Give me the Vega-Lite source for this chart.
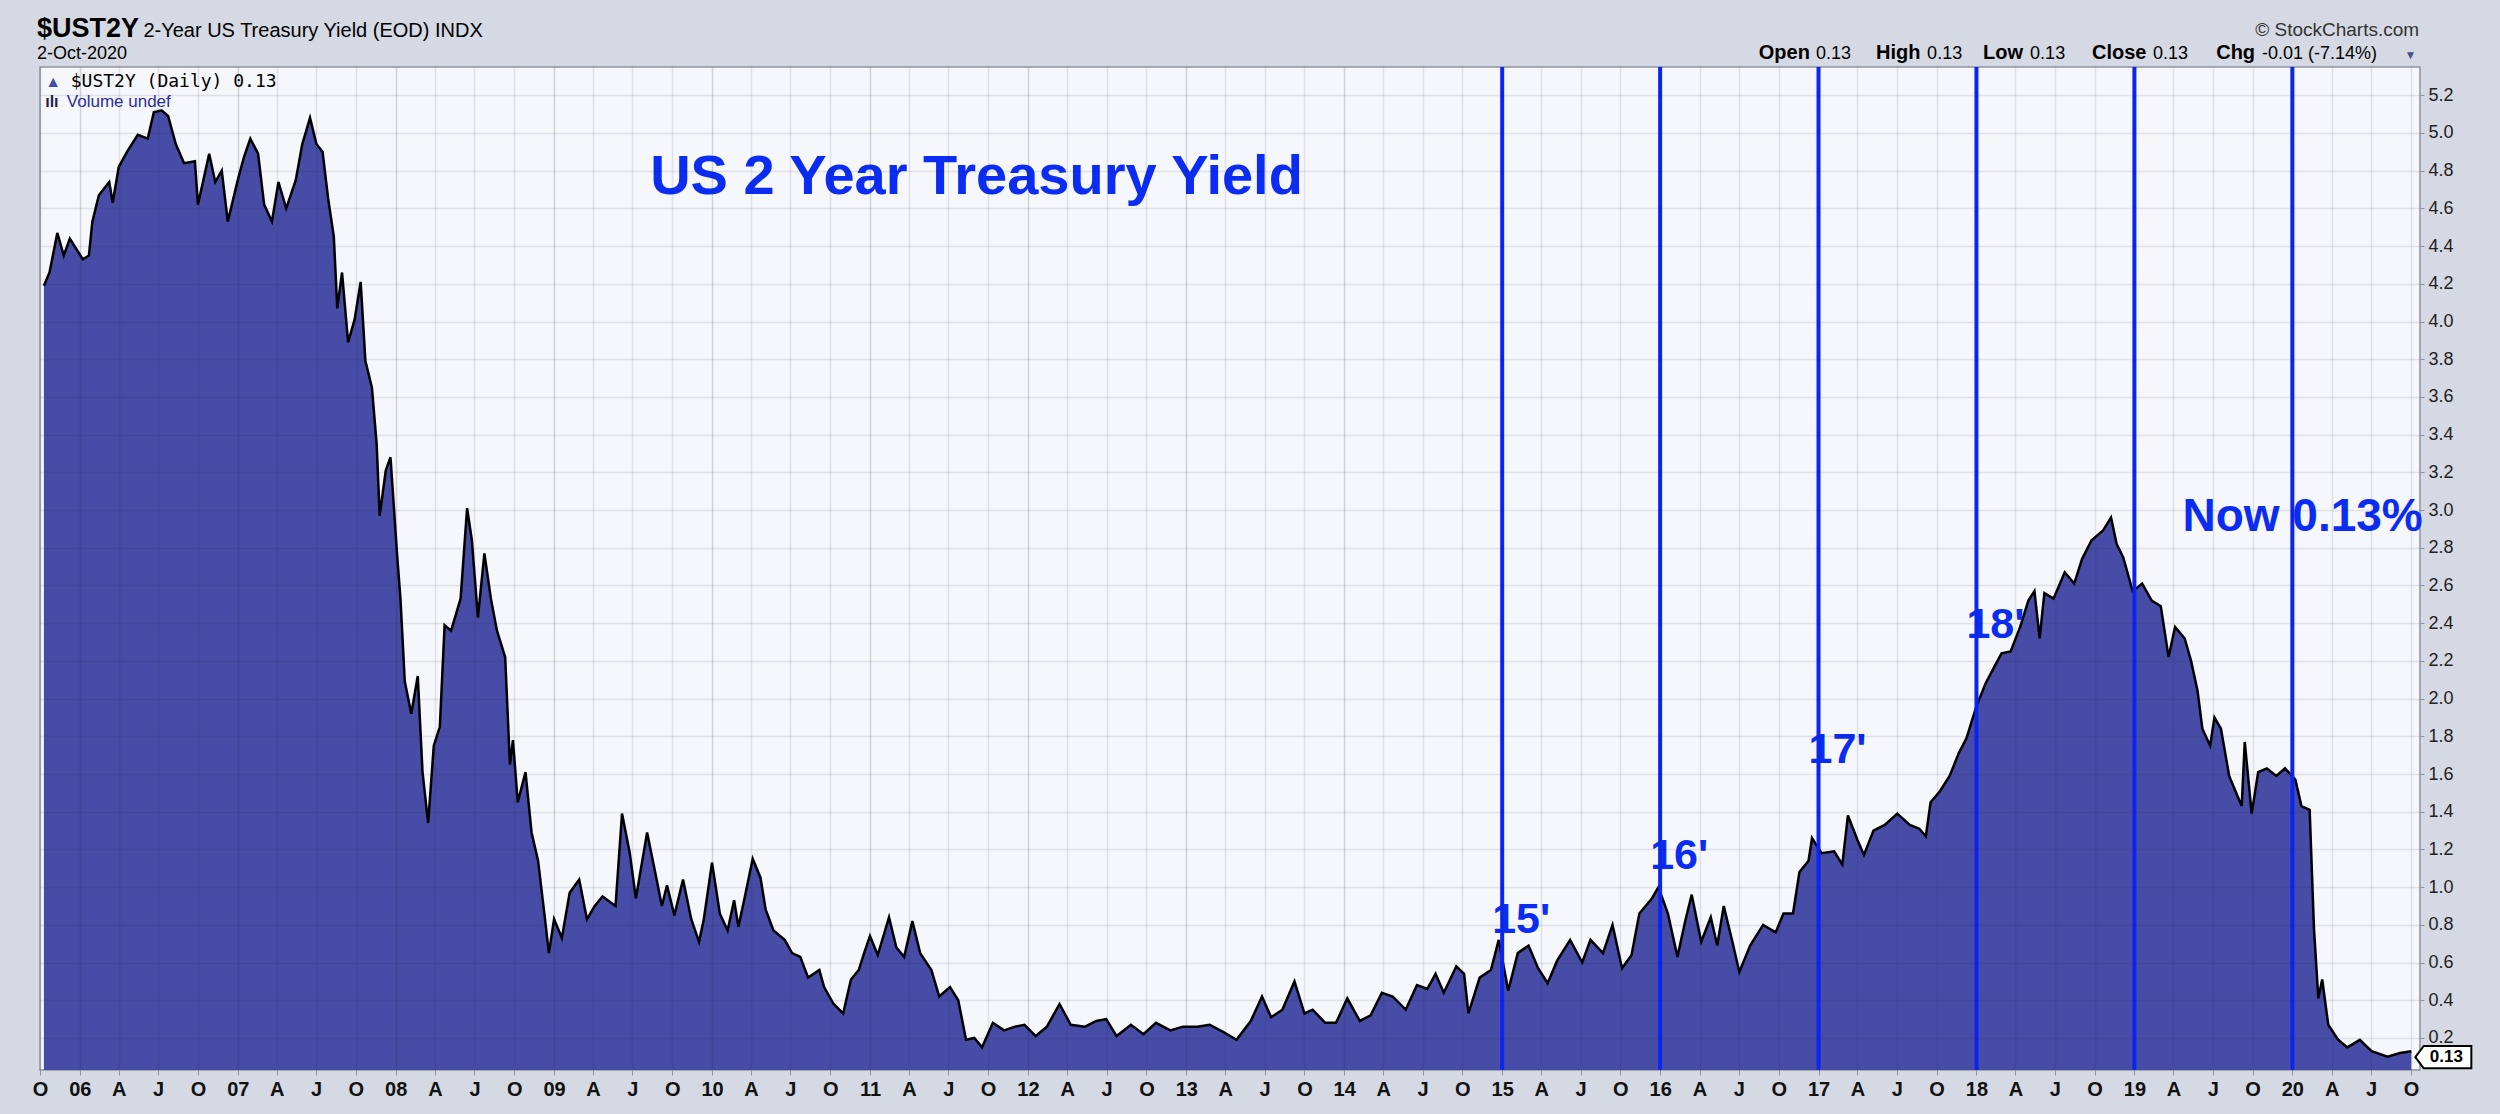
{
  "$schema": "https://vega.github.io/schema/vega-lite/v6.json",
  "width": 2380,
  "height": 1003,
  "autosize": {"type": "none"},
  "padding": {"left": 40, "top": 67, "right": 80, "bottom": 44},
  "background": "#d5d9e3",
  "config": {
    "view": {"fill": "#f6f7fb", "stroke": "#8d929f", "strokeWidth": 1.5},
    "font": "Liberation Sans"
  },
  "datasets": {
    "yield": [
      {"date": "2005-10-10", "yield": 4.19}, {"date": "2005-10-23", "yield": 4.26}, {"date": "2005-11-10", "yield": 4.47},
      {"date": "2005-11-25", "yield": 4.35}, {"date": "2005-12-09", "yield": 4.44}, {"date": "2006-01-08", "yield": 4.33},
      {"date": "2006-01-22", "yield": 4.35}, {"date": "2006-01-30", "yield": 4.53}, {"date": "2006-02-14", "yield": 4.67},
      {"date": "2006-03-10", "yield": 4.74}, {"date": "2006-03-18", "yield": 4.63}, {"date": "2006-04-01", "yield": 4.82},
      {"date": "2006-04-20", "yield": 4.90}, {"date": "2006-05-15", "yield": 4.99}, {"date": "2006-06-07", "yield": 4.97},
      {"date": "2006-06-21", "yield": 5.11}, {"date": "2006-07-09", "yield": 5.12}, {"date": "2006-07-24", "yield": 5.09},
      {"date": "2006-08-11", "yield": 4.94}, {"date": "2006-08-30", "yield": 4.84}, {"date": "2006-09-24", "yield": 4.85},
      {"date": "2006-10-01", "yield": 4.62}, {"date": "2006-10-27", "yield": 4.89}, {"date": "2006-11-10", "yield": 4.74},
      {"date": "2006-11-25", "yield": 4.80}, {"date": "2006-12-09", "yield": 4.53}, {"date": "2007-01-01", "yield": 4.75},
      {"date": "2007-01-15", "yield": 4.87}, {"date": "2007-01-30", "yield": 4.97}, {"date": "2007-02-17", "yield": 4.89},
      {"date": "2007-03-03", "yield": 4.62}, {"date": "2007-03-21", "yield": 4.53}, {"date": "2007-04-05", "yield": 4.74},
      {"date": "2007-04-23", "yield": 4.60}, {"date": "2007-05-15", "yield": 4.75}, {"date": "2007-05-30", "yield": 4.94},
      {"date": "2007-06-17", "yield": 5.08}, {"date": "2007-07-02", "yield": 4.94}, {"date": "2007-07-16", "yield": 4.90},
      {"date": "2007-07-29", "yield": 4.65}, {"date": "2007-08-11", "yield": 4.45}, {"date": "2007-08-19", "yield": 4.07},
      {"date": "2007-08-30", "yield": 4.26}, {"date": "2007-09-13", "yield": 3.89}, {"date": "2007-09-28", "yield": 4.01},
      {"date": "2007-10-12", "yield": 4.21}, {"date": "2007-10-23", "yield": 3.79}, {"date": "2007-11-07", "yield": 3.65},
      {"date": "2007-11-18", "yield": 3.35}, {"date": "2007-11-25", "yield": 2.97}, {"date": "2007-12-09", "yield": 3.21},
      {"date": "2007-12-20", "yield": 3.28}, {"date": "2008-01-04", "yield": 2.77}, {"date": "2008-01-12", "yield": 2.53},
      {"date": "2008-01-22", "yield": 2.09}, {"date": "2008-02-06", "yield": 1.92}, {"date": "2008-02-21", "yield": 2.12},
      {"date": "2008-03-03", "yield": 1.61}, {"date": "2008-03-16", "yield": 1.34}, {"date": "2008-03-29", "yield": 1.75},
      {"date": "2008-04-12", "yield": 1.85}, {"date": "2008-04-23", "yield": 2.39}, {"date": "2008-05-08", "yield": 2.36},
      {"date": "2008-05-30", "yield": 2.53}, {"date": "2008-06-14", "yield": 3.01}, {"date": "2008-06-25", "yield": 2.84},
      {"date": "2008-07-09", "yield": 2.43}, {"date": "2008-07-24", "yield": 2.77}, {"date": "2008-08-08", "yield": 2.53},
      {"date": "2008-08-22", "yield": 2.36}, {"date": "2008-09-10", "yield": 2.22}, {"date": "2008-09-21", "yield": 1.65},
      {"date": "2008-09-28", "yield": 1.78}, {"date": "2008-10-09", "yield": 1.45}, {"date": "2008-10-27", "yield": 1.61},
      {"date": "2008-11-10", "yield": 1.29}, {"date": "2008-11-25", "yield": 1.14}, {"date": "2008-12-09", "yield": 0.87},
      {"date": "2008-12-20", "yield": 0.65}, {"date": "2009-01-01", "yield": 0.83}, {"date": "2009-01-19", "yield": 0.73},
      {"date": "2009-02-06", "yield": 0.97}, {"date": "2009-02-28", "yield": 1.04}, {"date": "2009-03-18", "yield": 0.83},
      {"date": "2009-04-05", "yield": 0.90}, {"date": "2009-04-23", "yield": 0.95}, {"date": "2009-05-23", "yield": 0.90},
      {"date": "2009-06-07", "yield": 1.39}, {"date": "2009-06-25", "yield": 1.18}, {"date": "2009-07-09", "yield": 0.94},
      {"date": "2009-08-04", "yield": 1.29}, {"date": "2009-08-26", "yield": 1.04}, {"date": "2009-09-07", "yield": 0.90},
      {"date": "2009-09-19", "yield": 1.01}, {"date": "2009-10-06", "yield": 0.85}, {"date": "2009-10-26", "yield": 1.04},
      {"date": "2009-11-14", "yield": 0.83}, {"date": "2009-12-02", "yield": 0.71}, {"date": "2009-12-13", "yield": 0.83},
      {"date": "2010-01-01", "yield": 1.13}, {"date": "2010-01-19", "yield": 0.86}, {"date": "2010-02-06", "yield": 0.77},
      {"date": "2010-02-21", "yield": 0.93}, {"date": "2010-03-03", "yield": 0.79}, {"date": "2010-03-18", "yield": 0.95},
      {"date": "2010-04-05", "yield": 1.15}, {"date": "2010-04-23", "yield": 1.05}, {"date": "2010-05-05", "yield": 0.88},
      {"date": "2010-05-23", "yield": 0.77}, {"date": "2010-06-18", "yield": 0.72}, {"date": "2010-07-05", "yield": 0.65},
      {"date": "2010-07-24", "yield": 0.63}, {"date": "2010-08-11", "yield": 0.52}, {"date": "2010-09-06", "yield": 0.56},
      {"date": "2010-09-17", "yield": 0.47}, {"date": "2010-10-09", "yield": 0.38}, {"date": "2010-10-31", "yield": 0.33},
      {"date": "2010-11-18", "yield": 0.51}, {"date": "2010-12-06", "yield": 0.56}, {"date": "2010-12-20", "yield": 0.66},
      {"date": "2011-01-01", "yield": 0.74}, {"date": "2011-01-19", "yield": 0.64}, {"date": "2011-02-14", "yield": 0.84},
      {"date": "2011-03-03", "yield": 0.68}, {"date": "2011-03-21", "yield": 0.63}, {"date": "2011-04-09", "yield": 0.82},
      {"date": "2011-04-27", "yield": 0.65}, {"date": "2011-05-23", "yield": 0.56}, {"date": "2011-06-10", "yield": 0.42},
      {"date": "2011-07-05", "yield": 0.47}, {"date": "2011-07-24", "yield": 0.40}, {"date": "2011-08-11", "yield": 0.19},
      {"date": "2011-08-30", "yield": 0.20}, {"date": "2011-09-17", "yield": 0.15}, {"date": "2011-10-12", "yield": 0.28},
      {"date": "2011-11-07", "yield": 0.24}, {"date": "2011-12-02", "yield": 0.26}, {"date": "2011-12-24", "yield": 0.27},
      {"date": "2012-01-19", "yield": 0.21}, {"date": "2012-02-14", "yield": 0.26}, {"date": "2012-03-14", "yield": 0.38},
      {"date": "2012-04-09", "yield": 0.27}, {"date": "2012-05-12", "yield": 0.26}, {"date": "2012-06-07", "yield": 0.29},
      {"date": "2012-06-30", "yield": 0.30}, {"date": "2012-07-24", "yield": 0.21}, {"date": "2012-08-26", "yield": 0.27},
      {"date": "2012-09-24", "yield": 0.22}, {"date": "2012-10-23", "yield": 0.28}, {"date": "2012-11-25", "yield": 0.24},
      {"date": "2012-12-24", "yield": 0.26}, {"date": "2013-01-26", "yield": 0.26}, {"date": "2013-02-24", "yield": 0.27},
      {"date": "2013-03-29", "yield": 0.23}, {"date": "2013-04-27", "yield": 0.19}, {"date": "2013-05-30", "yield": 0.29},
      {"date": "2013-06-25", "yield": 0.42}, {"date": "2013-07-16", "yield": 0.31}, {"date": "2013-08-11", "yield": 0.35},
      {"date": "2013-09-08", "yield": 0.50}, {"date": "2013-10-01", "yield": 0.33}, {"date": "2013-10-20", "yield": 0.35},
      {"date": "2013-11-18", "yield": 0.28}, {"date": "2013-12-13", "yield": 0.28}, {"date": "2014-01-08", "yield": 0.41},
      {"date": "2014-02-06", "yield": 0.29}, {"date": "2014-03-03", "yield": 0.32}, {"date": "2014-03-29", "yield": 0.44},
      {"date": "2014-04-23", "yield": 0.42}, {"date": "2014-05-23", "yield": 0.35}, {"date": "2014-06-18", "yield": 0.48},
      {"date": "2014-07-12", "yield": 0.46}, {"date": "2014-07-31", "yield": 0.54}, {"date": "2014-08-19", "yield": 0.44},
      {"date": "2014-09-17", "yield": 0.58}, {"date": "2014-10-05", "yield": 0.54}, {"date": "2014-10-15", "yield": 0.33},
      {"date": "2014-11-10", "yield": 0.52}, {"date": "2014-12-06", "yield": 0.56}, {"date": "2014-12-24", "yield": 0.72},
      {"date": "2015-01-15", "yield": 0.45}, {"date": "2015-02-06", "yield": 0.65}, {"date": "2015-03-03", "yield": 0.69},
      {"date": "2015-03-25", "yield": 0.57}, {"date": "2015-04-16", "yield": 0.49}, {"date": "2015-05-08", "yield": 0.61},
      {"date": "2015-06-07", "yield": 0.72}, {"date": "2015-07-05", "yield": 0.60}, {"date": "2015-07-24", "yield": 0.72},
      {"date": "2015-08-22", "yield": 0.65}, {"date": "2015-09-13", "yield": 0.80}, {"date": "2015-10-05", "yield": 0.57},
      {"date": "2015-10-27", "yield": 0.64}, {"date": "2015-11-14", "yield": 0.86}, {"date": "2015-12-13", "yield": 0.94},
      {"date": "2015-12-28", "yield": 1.00}, {"date": "2016-01-19", "yield": 0.86}, {"date": "2016-02-10", "yield": 0.63},
      {"date": "2016-02-28", "yield": 0.82}, {"date": "2016-03-14", "yield": 0.96}, {"date": "2016-04-05", "yield": 0.71},
      {"date": "2016-04-27", "yield": 0.84}, {"date": "2016-05-12", "yield": 0.69}, {"date": "2016-05-27", "yield": 0.90},
      {"date": "2016-06-16", "yield": 0.71}, {"date": "2016-07-02", "yield": 0.55}, {"date": "2016-07-27", "yield": 0.69},
      {"date": "2016-08-26", "yield": 0.80}, {"date": "2016-09-24", "yield": 0.76}, {"date": "2016-10-12", "yield": 0.86},
      {"date": "2016-11-03", "yield": 0.86}, {"date": "2016-11-18", "yield": 1.08}, {"date": "2016-12-09", "yield": 1.14},
      {"date": "2016-12-17", "yield": 1.26}, {"date": "2017-01-08", "yield": 1.18}, {"date": "2017-02-06", "yield": 1.19},
      {"date": "2017-02-25", "yield": 1.12}, {"date": "2017-03-10", "yield": 1.38}, {"date": "2017-04-01", "yield": 1.25},
      {"date": "2017-04-16", "yield": 1.17}, {"date": "2017-05-08", "yield": 1.30}, {"date": "2017-06-03", "yield": 1.33},
      {"date": "2017-07-02", "yield": 1.39}, {"date": "2017-07-31", "yield": 1.33}, {"date": "2017-08-22", "yield": 1.31},
      {"date": "2017-09-06", "yield": 1.27}, {"date": "2017-09-17", "yield": 1.45}, {"date": "2017-10-09", "yield": 1.51},
      {"date": "2017-10-31", "yield": 1.59}, {"date": "2017-11-21", "yield": 1.71}, {"date": "2017-12-09", "yield": 1.79},
      {"date": "2018-01-01", "yield": 1.96}, {"date": "2018-01-22", "yield": 2.08}, {"date": "2018-02-14", "yield": 2.18},
      {"date": "2018-02-28", "yield": 2.24}, {"date": "2018-03-21", "yield": 2.25}, {"date": "2018-04-12", "yield": 2.38},
      {"date": "2018-05-01", "yield": 2.52}, {"date": "2018-05-15", "yield": 2.57}, {"date": "2018-05-27", "yield": 2.32},
      {"date": "2018-06-07", "yield": 2.56}, {"date": "2018-06-28", "yield": 2.53}, {"date": "2018-07-24", "yield": 2.67},
      {"date": "2018-08-15", "yield": 2.61}, {"date": "2018-09-02", "yield": 2.74}, {"date": "2018-09-24", "yield": 2.84},
      {"date": "2018-10-20", "yield": 2.89}, {"date": "2018-11-08", "yield": 2.96}, {"date": "2018-11-21", "yield": 2.82},
      {"date": "2018-12-06", "yield": 2.75}, {"date": "2018-12-28", "yield": 2.57}, {"date": "2019-01-19", "yield": 2.61},
      {"date": "2019-02-10", "yield": 2.52}, {"date": "2019-03-03", "yield": 2.49}, {"date": "2019-03-21", "yield": 2.22},
      {"date": "2019-04-05", "yield": 2.38}, {"date": "2019-04-27", "yield": 2.32}, {"date": "2019-05-12", "yield": 2.20},
      {"date": "2019-05-27", "yield": 2.04}, {"date": "2019-06-07", "yield": 1.84}, {"date": "2019-06-25", "yield": 1.75},
      {"date": "2019-07-05", "yield": 1.90}, {"date": "2019-07-20", "yield": 1.84}, {"date": "2019-08-08", "yield": 1.59},
      {"date": "2019-08-26", "yield": 1.49}, {"date": "2019-09-06", "yield": 1.43}, {"date": "2019-09-13", "yield": 1.77},
      {"date": "2019-09-29", "yield": 1.39}, {"date": "2019-10-14", "yield": 1.61}, {"date": "2019-11-03", "yield": 1.63},
      {"date": "2019-11-25", "yield": 1.59}, {"date": "2019-12-15", "yield": 1.63}, {"date": "2020-01-08", "yield": 1.57},
      {"date": "2020-01-22", "yield": 1.43}, {"date": "2020-02-10", "yield": 1.41}, {"date": "2020-02-20", "yield": 0.78},
      {"date": "2020-03-01", "yield": 0.41}, {"date": "2020-03-10", "yield": 0.51}, {"date": "2020-03-24", "yield": 0.27},
      {"date": "2020-04-16", "yield": 0.19}, {"date": "2020-05-07", "yield": 0.15}, {"date": "2020-06-05", "yield": 0.19},
      {"date": "2020-07-02", "yield": 0.13}, {"date": "2020-08-08", "yield": 0.10}, {"date": "2020-09-06", "yield": 0.12},
      {"date": "2020-10-02", "yield": 0.13}
    ]
  },
  "encoding": {
    "x": {
      "field": "date",
      "type": "temporal",
      "scale": {
        "type": "utc",
        "domain": [
          {"year": 2005, "month": 10, "date": 1, "utc": true},
          {"year": 2020, "month": 10, "date": 22, "utc": true}
        ]
      },
      "axis": {
        "title": null,
        "zindex": 1,
        "tickCount": {"interval": "month", "step": 3},
        "labelExpr": "utcmonth(datum.value) == 0 ? utcFormat(datum.value, '%y') : utcmonth(datum.value) == 3 ? 'A' : utcmonth(datum.value) == 6 ? 'J' : 'O'",
        "labelFontWeight": "bold",
        "labelFontSize": 20,
        "labelColor": "#111111",
        "labelPadding": 4,
        "labelOverlap": false,
        "labelFlush": false,
        "labelBound": false,
        "tickSize": 5,
        "tickColor": "#8d929f",
        "domain": false,
        "gridColor": "#1a1d40",
        "gridOpacity": {"condition": {"test": "utcmonth(datum.value) == 0", "value": 0.17}, "value": 0.1},
        "gridWidth": 1.5
      }
    }
  },
  "layer": [
    {
      "data": {"name": "yield"},
      "mark": {"type": "area", "color": "#474ca6", "opacity": 1, "clip": true, "line": {"color": "#000000", "strokeWidth": 2.5}},
      "encoding": {
        "y": {
          "field": "yield",
          "type": "quantitative",
          "scale": {"domain": [0.03, 5.35], "zero": false, "nice": false},
          "axis": {
            "title": null,
            "orient": "right",
            "zindex": 1,
            "values": [0.2, 0.4, 0.6, 0.8, 1.0, 1.2, 1.4, 1.6, 1.8, 2.0, 2.2, 2.4, 2.6, 2.8, 3.0, 3.2, 3.4, 3.6, 3.8, 4.0, 4.2, 4.4, 4.6, 4.8, 5.0, 5.2],
            "format": ".1f",
            "labelFontSize": 18,
            "labelColor": "#222222",
            "labelPadding": 4,
            "tickSize": 4,
            "tickColor": "#8d929f",
            "domain": false,
            "gridColor": "#1a1d40",
            "gridOpacity": 0.1,
            "gridWidth": 1.5
          }
        }
      }
    },
    {
      "data": {"values": [{"date": "2015-01-01"}, {"date": "2016-01-01"}, {"date": "2017-01-01"}, {"date": "2018-01-01"}, {"date": "2019-01-01"}, {"date": "2020-01-01"}]},
      "mark": {"type": "rule", "color": "#0b26ff", "strokeWidth": 4},
      "encoding": {}
    },
    {
      "data": {"values": [
        {"date": "2015-01-01", "yield": 0.755, "label": "15'"},
        {"date": "2016-01-01", "yield": 1.097, "label": "16'"},
        {"date": "2017-01-01", "yield": 1.661, "label": "17'"},
        {"date": "2018-01-01", "yield": 2.322, "label": "18'"}
      ]},
      "mark": {"type": "text", "align": "left", "baseline": "alphabetic", "dx": -10, "fontWeight": "bold", "fontSize": 43, "color": "#0b2cf2"},
      "encoding": {"y": {"field": "yield", "type": "quantitative", "scale": {"domain": [0.03, 5.35], "zero": false, "nice": false}}, "text": {"field": "label"}}
    },
    {
      "data": {"values": [{"date": "2009-08-11", "yield": 4.679, "label": "US 2 Year Treasury Yield"}]},
      "mark": {"type": "text", "align": "left", "baseline": "alphabetic", "fontWeight": "bold", "fontSize": 56, "color": "#0b2cf2"},
      "encoding": {"y": {"field": "yield", "type": "quantitative", "scale": {"domain": [0.03, 5.35], "zero": false, "nice": false}}, "text": {"field": "label"}}
    },
    {
      "data": {"values": [{"date": "2019-04-22", "yield": 2.891, "label": "Now 0.13%"}]},
      "mark": {"type": "text", "align": "left", "baseline": "alphabetic", "fontWeight": "bold", "fontSize": 46, "color": "#0b2cf2"},
      "encoding": {"y": {"field": "yield", "type": "quantitative", "scale": {"domain": [0.03, 5.35], "zero": false, "nice": false}}, "text": {"field": "label"}}
    },
    {
      "data": {"values": [{"date": "2020-10-02", "yield": 0.13}]},
      "mark": {"type": "point", "shape": "M-1,0L-0.7,-0.4L1,-0.4L1,0.4L-0.7,0.4Z", "size": 3136, "filled": true, "fill": "#ffffff", "stroke": "#000000", "strokeWidth": 2, "opacity": 1, "xOffset": 32, "yOffset": 6},
      "encoding": {"y": {"field": "yield", "type": "quantitative", "scale": {"domain": [0.03, 5.35], "zero": false, "nice": false}}}
    },
    {
      "data": {"values": [{"date": "2020-10-02", "yield": 0.13, "label": "0.13"}]},
      "mark": {"type": "text", "align": "center", "baseline": "middle", "dx": 35, "dy": 6, "fontWeight": "bold", "fontSize": 17, "color": "#000000"},
      "encoding": {"y": {"field": "yield", "type": "quantitative", "scale": {"domain": [0.03, 5.35], "zero": false, "nice": false}}, "text": {"field": "label"}}
    },
    {
      "data": {"values": [{"date": "2005-09-24", "yield": 5.507, "label": "$UST2Y"}]},
      "mark": {"type": "text", "align": "left", "baseline": "alphabetic", "fontWeight": "bold", "fontSize": 27, "color": "#000000"},
      "encoding": {"y": {"field": "yield", "type": "quantitative", "scale": {"domain": [0.03, 5.35], "zero": false, "nice": false}}, "text": {"field": "label"}}
    },
    {
      "data": {"values": [{"date": "2006-05-28", "yield": 5.507, "label": "2-Year US Treasury Yield (EOD) INDX"}]},
      "mark": {"type": "text", "align": "left", "baseline": "alphabetic", "fontSize": 20, "color": "#000000"},
      "encoding": {"y": {"field": "yield", "type": "quantitative", "scale": {"domain": [0.03, 5.35], "zero": false, "nice": false}}, "text": {"field": "label"}}
    },
    {
      "data": {"values": [{"date": "2005-09-24", "yield": 5.39, "label": "2-Oct-2020"}]},
      "mark": {"type": "text", "align": "left", "baseline": "alphabetic", "fontSize": 18, "color": "#000000"},
      "encoding": {"y": {"field": "yield", "type": "quantitative", "scale": {"domain": [0.03, 5.35], "zero": false, "nice": false}}, "text": {"field": "label"}}
    },
    {
      "data": {"values": [{"date": "2020-10-20", "yield": 5.512, "label": "© StockCharts.com"}]},
      "mark": {"type": "text", "align": "right", "baseline": "alphabetic", "fontSize": 19, "color": "#333333"},
      "encoding": {"y": {"field": "yield", "type": "quantitative", "scale": {"domain": [0.03, 5.35], "zero": false, "nice": false}}, "text": {"field": "label"}}
    },
    {
      "data": {"values": [
        {"date": "2016-08-16", "yield": 5.39, "label": "Open"},
        {"date": "2017-05-14", "yield": 5.39, "label": "High"},
        {"date": "2018-01-16", "yield": 5.39, "label": "Low"},
        {"date": "2018-09-25", "yield": 5.39, "label": "Close"},
        {"date": "2019-07-09", "yield": 5.39, "label": "Chg"}
      ]},
      "mark": {"type": "text", "align": "left", "baseline": "alphabetic", "fontWeight": "bold", "fontSize": 20, "color": "#000000"},
      "encoding": {"y": {"field": "yield", "type": "quantitative", "scale": {"domain": [0.03, 5.35], "zero": false, "nice": false}}, "text": {"field": "label"}}
    },
    {
      "data": {"values": [
        {"date": "2016-12-26", "yield": 5.39, "label": "0.13"},
        {"date": "2017-09-09", "yield": 5.39, "label": "0.13"},
        {"date": "2018-05-05", "yield": 5.39, "label": "0.13"},
        {"date": "2019-02-13", "yield": 5.39, "label": "0.13"},
        {"date": "2019-10-23", "yield": 5.39, "label": "-0.01 (-7.14%)"}
      ]},
      "mark": {"type": "text", "align": "left", "baseline": "alphabetic", "fontSize": 18, "color": "#000000"},
      "encoding": {"y": {"field": "yield", "type": "quantitative", "scale": {"domain": [0.03, 5.35], "zero": false, "nice": false}}, "text": {"field": "label"}}
    },
    {
      "data": {"values": [{"date": "2020-09-16", "yield": 5.39, "label": "▼"}]},
      "mark": {"type": "text", "align": "left", "baseline": "alphabetic", "fontSize": 12, "color": "#4a4f8c"},
      "encoding": {"y": {"field": "yield", "type": "quantitative", "scale": {"domain": [0.03, 5.35], "zero": false, "nice": false}}, "text": {"field": "label"}}
    },
    {
      "data": {"values": [{"date": "2005-10-13", "yield": 5.245, "label": "▲"}]},
      "mark": {"type": "text", "align": "left", "baseline": "alphabetic", "fontSize": 16, "color": "#474ca6"},
      "encoding": {"y": {"field": "yield", "type": "quantitative", "scale": {"domain": [0.03, 5.35], "zero": false, "nice": false}}, "text": {"field": "label"}}
    },
    {
      "data": {"values": [{"date": "2005-12-11", "yield": 5.245, "label": "$UST2Y (Daily) 0.13"}]},
      "mark": {"type": "text", "align": "left", "baseline": "alphabetic", "font": "DejaVu Sans Mono", "fontSize": 18, "color": "#000000"},
      "encoding": {"y": {"field": "yield", "type": "quantitative", "scale": {"domain": [0.03, 5.35], "zero": false, "nice": false}}, "text": {"field": "label"}}
    },
    {
      "data": {"values": [{"date": "2005-10-13", "yield": 5.14, "label": "ılı"}]},
      "mark": {"type": "text", "align": "left", "baseline": "alphabetic", "fontWeight": "bold", "fontSize": 16, "color": "#222244"},
      "encoding": {"y": {"field": "yield", "type": "quantitative", "scale": {"domain": [0.03, 5.35], "zero": false, "nice": false}}, "text": {"field": "label"}}
    },
    {
      "data": {"values": [{"date": "2005-12-02", "yield": 5.14, "label": "Volume undef"}]},
      "mark": {"type": "text", "align": "left", "baseline": "alphabetic", "fontSize": 17, "color": "#2b2f9c"},
      "encoding": {"y": {"field": "yield", "type": "quantitative", "scale": {"domain": [0.03, 5.35], "zero": false, "nice": false}}, "text": {"field": "label"}}
    }
  ]
}
